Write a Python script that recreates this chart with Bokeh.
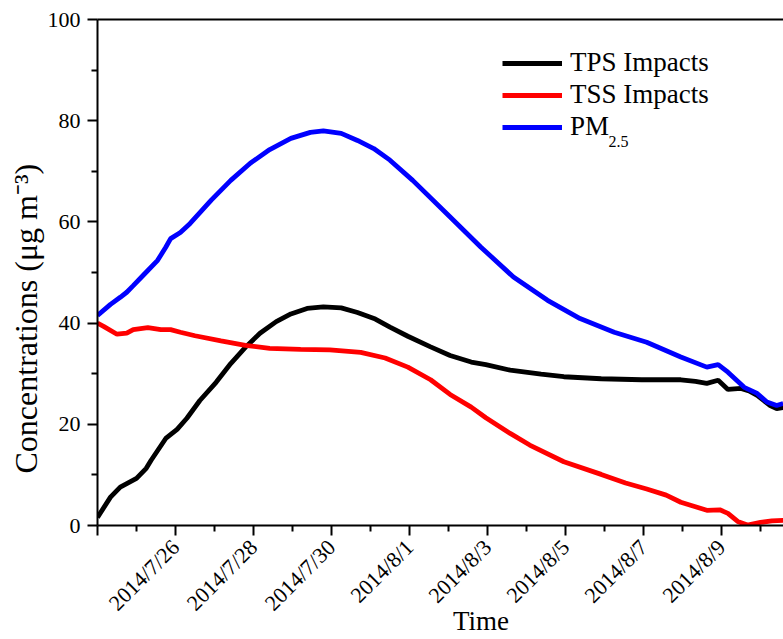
from math import pi
from bokeh.plotting import figure
from bokeh.models import Range1d, FixedTicker, LinearAxis, Label, Legend, LegendItem, Title
from bokeh.embed import file_html
from bokeh.resources import INLINE

# hours elapsed since 2014-07-24 00:00
tps_hours = [0, 8, 14, 24, 30, 33, 42, 49, 55, 63, 73, 82, 91, 100, 110, 119, 129, 139,
             150, 160, 171, 180, 191, 205, 217, 230, 239, 254, 273, 287, 310, 335, 359,
             368, 375, 382, 388, 396, 401, 406, 414, 418, 422]
tps_vals = [1.6, 5.6, 7.6, 9.3, 11.3, 12.9, 17.2, 19.0, 21.2, 24.7, 28.3, 32.0, 35.2, 38.0,
            40.3, 41.8, 42.9, 43.2, 43.0, 42.1, 40.8, 39.2, 37.4, 35.3, 33.6, 32.3, 31.8,
            30.7, 29.9, 29.4, 29.0, 28.8, 28.8, 28.5, 28.1, 28.7, 26.9, 27.1, 26.6, 25.7,
            23.7, 23.1, 23.3]

tss_hours = [0, 4, 12, 18, 22, 31, 39, 45, 51, 60, 76, 91, 106, 125, 143, 162, 177, 191,
             205, 217, 230, 239, 254, 266, 287, 310, 325, 338, 350, 359, 368, 375, 383,
             388, 394, 400, 408, 415, 422]
tss_vals = [40.0, 39.3, 37.8, 38.0, 38.7, 39.1, 38.7, 38.7, 38.2, 37.5, 36.5, 35.6, 35.0,
            34.8, 34.7, 34.2, 33.1, 31.3, 28.8, 25.9, 23.4, 21.3, 18.2, 15.9, 12.6, 10.1,
            8.4, 7.2, 6.0, 4.6, 3.7, 3.0, 3.1, 2.4, 0.8, 0.1, 0.6, 0.9, 1.0]

pm_hours = [0, 8, 14, 18, 22, 28, 37, 42, 45, 51, 57, 70, 82, 94, 106, 119, 131, 139, 150,
            160, 170, 180, 194, 215, 236, 256, 277, 297, 318, 338, 359, 375, 382, 388, 398,
            406, 412, 418, 422]
pm_vals = [41.5, 43.7, 45.1, 46.1, 47.4, 49.4, 52.4, 55.0, 56.7, 57.9, 59.7, 64.3, 68.2,
           71.6, 74.3, 76.5, 77.7, 78.0, 77.5, 76.1, 74.5, 72.2, 68.2, 61.6, 55.0, 49.1,
           44.5, 40.9, 38.2, 36.2, 33.3, 31.3, 31.8, 30.3, 27.3, 26.1, 24.4, 23.7, 24.1]

tick_hours = [0, 48, 96, 144, 192, 240, 288, 336, 384]
tick_labels = ["", "2014/7/26", "2014/7/28", "2014/7/30", "2014/8/1", "2014/8/3",
               "2014/8/5", "2014/8/7", "2014/8/9"]
minor_tick_hours = [24, 72, 120, 168, 216, 264, 312, 360, 408]

y_ticks = [0, 20, 40, 60, 80, 100]
y_minor_ticks = [10, 30, 50, 70, 90]

FONT = "Liberation Serif"

p = figure(width=783, height=639, output_backend="svg", toolbar_location=None,
           x_range=Range1d(0, 422.2), y_range=Range1d(0, 100),
           min_border_left=97, min_border_right=0, min_border_top=19, min_border_bottom=114)
p.outline_line_color = None
p.grid.visible = False
p.background_fill_color = "white"
p.border_fill_color = "white"

r_tps = p.line(tps_hours, tps_vals, line_color="black", line_width=4.8)
r_tss = p.line(tss_hours, tss_vals, line_color="#ff0000", line_width=4.8)
r_pm = p.line(pm_hours, pm_vals, line_color="#0000ff", line_width=4.8)

# x axis: date ticks every two days, minor ticks on the odd days
xa = p.xaxis[0]
xa.ticker = FixedTicker(ticks=tick_hours, minor_ticks=minor_tick_hours)
xa.major_label_overrides = {h: lab for h, lab in zip(tick_hours, tick_labels)}
xa.major_label_orientation = pi / 4
xa.major_label_text_font = FONT
xa.major_label_text_font_size = "22px"
xa.major_label_text_color = "black"
xa.major_label_standoff = 8
xa.axis_line_width = 2
xa.major_tick_line_width = 2
xa.minor_tick_line_width = 2
xa.major_tick_out = 10
xa.major_tick_in = 0
xa.minor_tick_out = 6
xa.minor_tick_in = 0
# the title sits right of the axis middle; no-break spaces push it over
xa.axis_label = "\u00a0" * 12 + "Time"
xa.axis_label_text_font = FONT
xa.axis_label_text_font_size = "27px"
xa.axis_label_text_font_style = "normal"
xa.axis_label_text_color = "black"
xa.axis_label_standoff = -21

ya = p.yaxis[0]
ya.ticker = FixedTicker(ticks=y_ticks, minor_ticks=y_minor_ticks)
ya.major_label_text_font = FONT
ya.major_label_text_font_size = "22px"
ya.major_label_text_color = "black"
ya.major_label_standoff = 7
ya.axis_line_width = 2
ya.major_tick_line_width = 2
ya.minor_tick_line_width = 2
ya.major_tick_out = 10
ya.major_tick_in = 0
ya.minor_tick_out = 6
ya.minor_tick_in = 0

# y axis title, starting a little above the bottom of the axis
p.add_layout(Title(text="Concentrations (μg m⁻³)", align="left", offset=52, standoff=2,
                   text_font=FONT, text_font_size="32px", text_font_style="normal",
                   text_color="black"), "left")

# plain top frame line
top = LinearAxis(ticker=FixedTicker(ticks=[]), axis_line_width=2,
                 major_tick_line_color=None, minor_tick_line_color=None,
                 major_label_text_font_size="0px")
p.add_layout(top, "above")

legend = Legend(items=[LegendItem(label="TPS Impacts", renderers=[r_tps]),
                       LegendItem(label="TSS Impacts", renderers=[r_tss]),
                       LegendItem(label="PM", renderers=[r_pm])],
                location=(405, 383), padding=0, spacing=1, margin=0,
                glyph_width=60, glyph_height=30, label_height=30, label_standoff=8,
                label_text_font=FONT, label_text_font_size="27px", label_text_color="black",
                border_line_color=None, background_fill_alpha=0)
p.add_layout(legend)
p.add_layout(Label(x=511, y=384, x_units="screen", y_units="screen", text="2.5",
                   text_font=FONT, text_font_size="16px", text_color="black",
                   text_baseline="alphabetic"))

open("out.html", "w").write(file_html(p, INLINE))
